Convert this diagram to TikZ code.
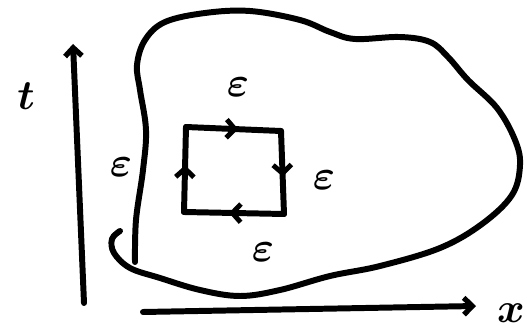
\documentclass[tikz,border=0pt]{standalone}
\usepackage{amsmath}
\usepackage{tikz}
\usetikzlibrary{arrows.meta, decorations.markings}
\tikzset{
	pen/.style={line width=8.5pt, line cap=round, line join=round},
	axisarr/.style={pen, -{Straight Barb[length=12pt, width=24pt, line width=7.5pt]}},
	midarr/.style={pen, postaction={decorate}, decoration={markings,
		mark=at position 0.55 with {\arrow{Straight Barb[length=12pt, width=26pt, line width=7pt]}}}},
	lbl/.style={font=\Huge\boldmath, inner sep=0pt, scale=2.4, transform shape},
}

\begin{document}
\begin{tikzpicture}[x=0.05cm, y=-0.05cm]
	\useasboundingbox (0,0) rectangle (527,333);
	% axes
	\node[lbl] (t) at (26,96) {$t$};
	\node[lbl] (x) at (511,313) {$x$};
	\coordinate (t0) at (84,303);
	\coordinate (t1) at (73,44);
	\coordinate (x0) at (143,312);
	\coordinate (x1) at (476,306);
	\draw[axisarr] (t0) -- (t1);
	\draw[axisarr] (x0) -- (x1);
	% region
	\draw[pen] plot[smooth, tension=0.6] coordinates {
		(135,262) (136,220) (143,170) (146,130) (140,90) (137,65) (145,40)
		(165,22) (205,13) (250,11) (300,20) (330,32) (355,39) (400,37)
		(430,42) (448,57) (468,80) (497,108) (515,140) (520,165) (512,195)
		(482,224) (440,248) (380,266) (330,276) (280,290) (240,296)
		(200,290) (160,278) (130,268) (114,253) (112,239) (120,231)};
	% loop
	\coordinate (a) at (186,127);
	\coordinate (b) at (281,131);
	\coordinate (c) at (284,214);
	\coordinate (d) at (184,212);
	\draw[midarr] (a) -- (b);
	\draw[midarr] (b) -- (c);
	\draw[midarr] (c) -- (d);
	\draw[midarr] (d) -- (a);
	\node[lbl] (eT) at (238,87) {$\varepsilon$};
	\node[lbl] (eR) at (324,180) {$\varepsilon$};
	\node[lbl] (eB) at (263,252) {$\varepsilon$};
	\node[lbl] (eL) at (121,167) {$\varepsilon$};
\end{tikzpicture}
\end{document}
